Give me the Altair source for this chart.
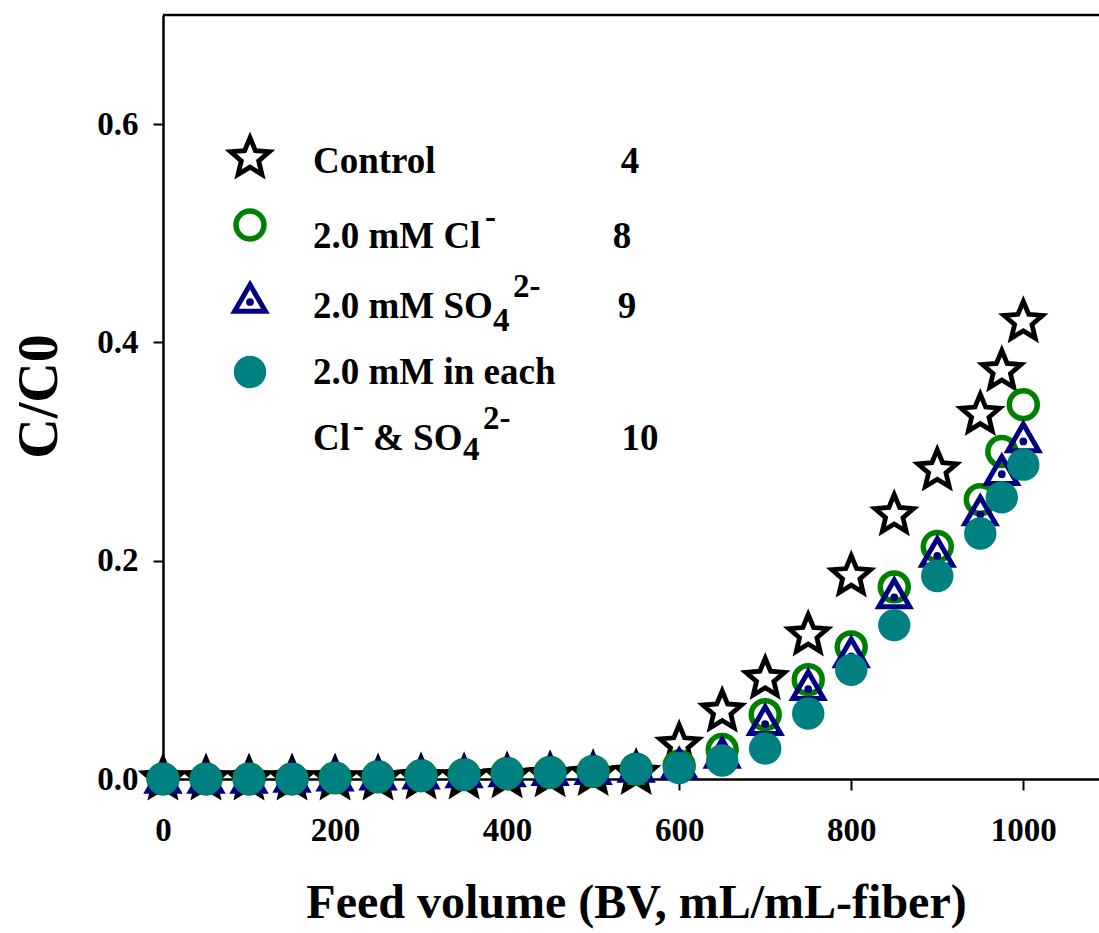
import altair as alt
import pandas as pd

# ---------------- data ----------------
feed_bv = [0, 50, 100, 150, 200, 250, 300, 350, 400, 450, 500, 550,
           600, 650, 700, 750, 800, 850, 900, 950, 975, 1000]
control = [0, 0, 0, 0, 0, 0, 0.001, 0.001, 0.002, 0.003, 0.004, 0.005,
           0.031, 0.062, 0.092, 0.132, 0.186, 0.242, 0.283, 0.334, 0.374, 0.419]
chloride = [0, 0, 0, 0, 0.001, 0.002, 0.003, 0.004, 0.005, 0.006, 0.007, 0.009,
            0.012, 0.027, 0.059, 0.091, 0.121, 0.176, 0.213, 0.256, 0.300, 0.343]
sulfate = [0.001, 0.001, 0.001, 0.002, 0.003, 0.004, 0.005, 0.006, 0.007, 0.008, 0.009, 0.011,
           0.014, 0.024, 0.054, 0.086, 0.116, 0.170, 0.208, 0.246, 0.283, 0.313]
mixed = [0, 0, 0, 0, 0.001, 0.002, 0.003, 0.004, 0.005, 0.006, 0.007, 0.009,
         0.010, 0.017, 0.028, 0.060, 0.100, 0.141, 0.186, 0.225, 0.258, 0.288]

x_ticks = [0, 200, 400, 600, 800, 1000]
y_ticks = [0.0, 0.2, 0.4, 0.6]

legend_main = ["Control", "2.0 mM Cl", "2.0 mM SO", "2.0 mM in each", "Cl"]
legend_numbers = ["4", "8", "9", "10"]

# ---------------- layout ----------------
XMIN, XMAX = 0, 1088
YMIN, YMAX = 0, 0.7
W, H = 936, 764
PXX = W / (XMAX - XMIN)
PXY = H / (YMAX - YMIN)
FONT = "Liberation Serif"

df = pd.DataFrame({"x": feed_bv, "control": control, "cl": chloride,
                   "so4": sulfate, "mix": mixed})

xs = alt.Scale(domain=[XMIN, XMAX], nice=False, zero=False)
ys = alt.Scale(domain=[YMIN, YMAX], nice=False, zero=False)

STAR = ("M0,-1 L0.2645,-0.3641 L0.951,-0.309 L0.428,0.139 L0.588,0.809 "
        "L0,0.45 L-0.588,0.809 L-0.428,0.139 L-0.951,-0.309 L-0.2645,-0.3641 Z")

GREEN, NAVY, TEAL = "#008000", "#000080", "#008080"

STAR_STYLE = dict(shape=STAR, filled=True, fill="white", stroke="black",
                  strokeWidth=4.8, strokeJoin="miter", size=1650, opacity=1)
RING_STYLE = dict(shape="circle", filled=False, stroke=GREEN, strokeWidth=5.5,
                  size=780, opacity=1)
TRI_STYLE = dict(shape="triangle-up", filled=False, stroke=NAVY, strokeWidth=5,
                 size=950, opacity=1)
DOT_STYLE = dict(color=NAVY, size=60, opacity=1)
TEAL_STYLE = dict(color=TEAL, size=1050, opacity=1)

xenc = alt.X("x:Q", scale=xs, axis=alt.Axis(
    values=x_ticks, format="d", title="Feed volume (BV, mL/mL-fiber)", grid=False,
    labelFont=FONT, labelFontSize=33, labelFontWeight="bold", labelColor="black",
    labelPadding=24, labelFlush=False, labelOverlap=False,
    tickSize=11, tickWidth=2, tickColor="black",
    domainWidth=2.5, domainColor="black",
    titleFont=FONT, titleFontSize=48, titleFontWeight="bold", titleColor="black",
    titleX=473, titleY=124, titleAlign="center", titleBaseline="middle"))


def yenc(field):
    return alt.Y(f"{field}:Q", scale=ys, axis=alt.Axis(
        values=y_ticks, format=".1f", title="C/C0", grid=False,
        labelFont=FONT, labelFontSize=33, labelFontWeight="bold", labelColor="black",
        labelPadding=15, labelFlush=False, labelOverlap=False,
        tickSize=10, tickWidth=2, tickColor="black",
        domainWidth=2.5, domainColor="black",
        titleFont=FONT, titleFontSize=56, titleFontWeight="bold", titleColor="black",
        titleAngle=270, titleX=-124, titleY=381, titleAlign="center",
        titleBaseline="middle"))


base = alt.Chart(df)
stars = base.mark_point(**STAR_STYLE).encode(x=xenc, y=yenc("control"))
rings = base.mark_point(**RING_STYLE).encode(x=xenc, y=yenc("cl"))
tris = base.mark_point(**TRI_STYLE).encode(x=xenc, y=yenc("so4"))
dots = base.mark_circle(**DOT_STYLE).encode(x=xenc, y=yenc("so4"), yOffset=alt.value(4))
teal = base.mark_circle(**TEAL_STYLE).encode(x=xenc, y=yenc("mix"))

top_line = alt.Chart(pd.DataFrame({"y": [YMAX]})).mark_rule(
    color="black", strokeWidth=2.5).encode(y=alt.Y("y:Q", scale=ys))

# ---------------- custom legend ----------------
sym_x = 87 / PXX
text_x = 150 / PXX
row_px = [617, 542, 472, 406, 340]          # row centres, px above the x axis
sym_px = [621, 554, 481, 407]


def ry(px):
    return px / PXY


sym_df = pd.DataFrame({"x": [sym_x] * 4, "y": [ry(p) for p in sym_px]})
lx = alt.X("x:Q", scale=xs)
ly = alt.Y("y:Q", scale=ys)
leg_star = alt.Chart(sym_df.iloc[[0]]).mark_point(**STAR_STYLE).encode(x=lx, y=ly)
leg_ring = alt.Chart(sym_df.iloc[[1]]).mark_point(**RING_STYLE).encode(x=lx, y=ly)
leg_tri = alt.Chart(sym_df.iloc[[2]]).mark_point(**TRI_STYLE).encode(x=lx, y=ly)
leg_dot = alt.Chart(sym_df.iloc[[2]]).mark_circle(**DOT_STYLE).encode(
    x=lx, y=ly, yOffset=alt.value(4))
leg_teal = alt.Chart(sym_df.iloc[[3]]).mark_circle(**TEAL_STYLE).encode(x=lx, y=ly)

# main text fragments (text, dx px from legend text column, row index, dy px)
main_frags = [
    (legend_main[0], 0, 0, 0),
    (legend_main[1], 0, 1, 0),
    (legend_main[2], 0, 2, 0),
    (legend_main[3], 0, 3, 0),
    (legend_main[4], 0, 4, 0),
    ("& SO", 60, 4, 0),
]
small_frags = [
    ("-", 172, 1, -19),
    ("4", 180, 2, 14),
    ("2-", 200, 2, -20),
    ("-", 40, 4, -12),
    ("4", 150, 4, 11),
    ("2-", 170, 4, -20),
]
num_frags = [
    (legend_numbers[0], 467, 0),
    (legend_numbers[1], 459, 1),
    (legend_numbers[2], 464, 2),
    (legend_numbers[3], 477, 4),
]

main_df = pd.DataFrame({
    "t": [f[0] for f in main_frags],
    "x": [text_x + f[1] / PXX for f in main_frags],
    "y": [ry(row_px[f[2]] - f[3]) for f in main_frags]})
small_df = pd.DataFrame({
    "t": [f[0] for f in small_frags],
    "x": [text_x + f[1] / PXX for f in small_frags],
    "y": [ry(row_px[f[2]] - f[3]) for f in small_frags]})
num_df = pd.DataFrame({
    "t": [f[0] for f in num_frags],
    "x": [f[1] / PXX for f in num_frags],
    "y": [ry(row_px[f[2]]) for f in num_frags]})

txt_main = alt.Chart(main_df).mark_text(
    font=FONT, fontSize=37, fontWeight="bold", color="black", align="left",
    baseline="middle").encode(x=lx, y=ly, text="t:N")
txt_small = alt.Chart(small_df).mark_text(
    font=FONT, fontSize=33, fontWeight="bold", color="black", align="left",
    baseline="middle").encode(x=lx, y=ly, text="t:N")
txt_num = alt.Chart(num_df).mark_text(
    font=FONT, fontSize=37, fontWeight="bold", color="black", align="center",
    baseline="middle").encode(x=lx, y=ly, text="t:N")

chart = alt.layer(
    stars, rings, tris, dots, teal, top_line,
    leg_star, leg_ring, leg_tri, leg_dot, leg_teal,
    txt_main, txt_small, txt_num,
).properties(
    width=W, height=H,
    autosize=alt.AutoSizeParams(type="none"),
    padding={"left": 163, "top": 15, "right": 0, "bottom": 154},
    background="white",
).configure_view(stroke=None)

chart.save("out.html", embed_options={"renderer": "svg", "actions": False})
